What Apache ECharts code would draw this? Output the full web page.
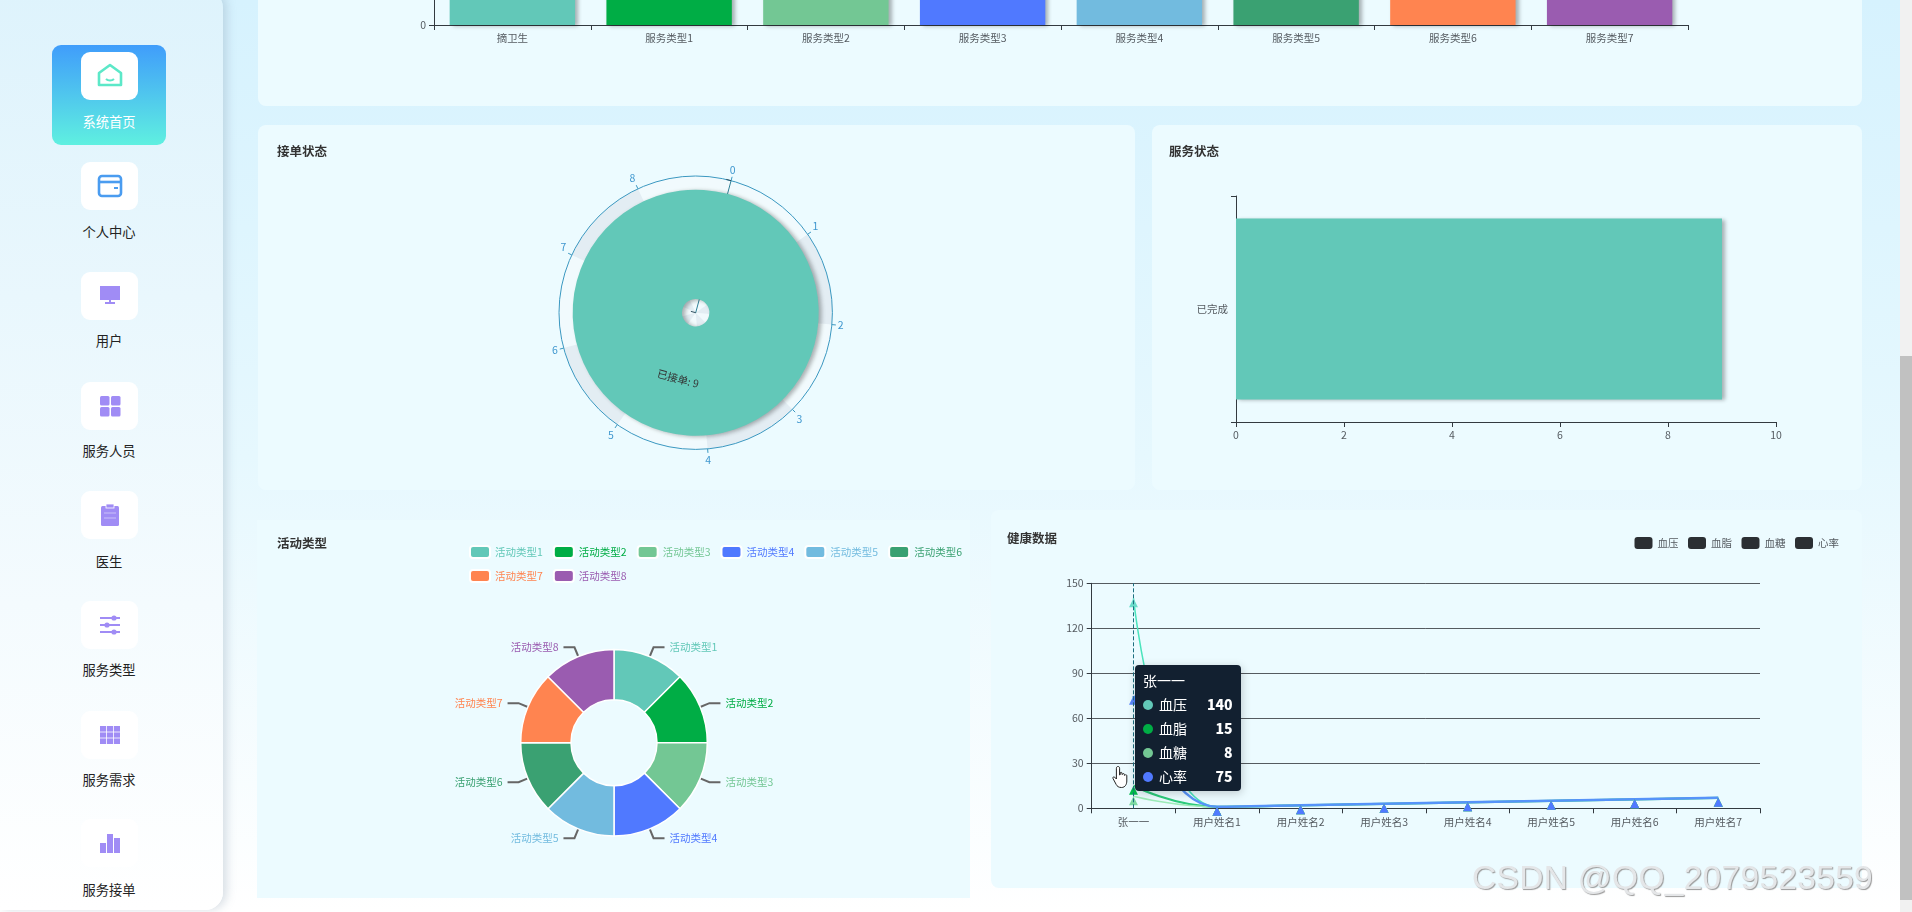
<!DOCTYPE html>
<html lang="zh"><head><meta charset="utf-8">
<script src="https://cdn.jsdelivr.net/npm/echarts@6/dist/echarts.min.js"></script>
<style>
html,body{margin:0;padding:0;width:1912px;height:912px;overflow:hidden}
body{background:linear-gradient(180deg,#d6f2fe 0%,#e6f8fe 50%,#ffffff 100%);font-family:"Noto Sans CJK SC",sans-serif;position:relative}
.panel,.chart{position:absolute}
.panel{background:#ecfbff;border-radius:8px}
#side{position:absolute;left:0;top:-10px;width:223px;height:920px;border-radius:0 18px 18px 0;background:linear-gradient(180deg,#def3fc,#ffffff);box-shadow:4px 0 10px rgba(120,140,160,.28)}
.tile{position:absolute;left:81px;width:57px;height:48px;background:#fff;border-radius:9px;display:flex;align-items:center;justify-content:center}
.lab{position:absolute;left:52px;width:114px;text-align:center;font-size:13.3px;color:#222;line-height:18px}
#active{position:absolute;left:52px;top:45px;width:114px;height:100px;border-radius:9px;background:linear-gradient(180deg,#409dfb,#5ff0e0)}
#sb{position:absolute;left:1900px;top:0;width:12px;height:912px;background:#f1f1f1}
#th{position:absolute;left:1900px;top:356px;width:12px;height:544px;background:#c1c1c1}
#wm{position:absolute;left:1472px;top:859px;font:33.5px "Liberation Sans",sans-serif;color:#e4e6e8;text-shadow:1px 1px 1px #9a9a9a;white-space:nowrap;letter-spacing:.3px}
#hand{position:absolute;left:1112px;top:765px}
</style></head><body>
<div class="panel" style="left:258px;top:-20px;width:1604px;height:126px"></div>
<div class="panel" style="left:258px;top:125px;width:877px;height:365px"></div>
<div class="panel" style="left:1152px;top:125px;width:710px;height:365px"></div>
<div class="panel" style="left:257px;top:520px;width:713px;height:378px;border-radius:0"></div>
<div class="panel" style="left:991px;top:510px;width:871px;height:378px"></div>
<div class="chart" id="c1" style="left:258px;top:-340px;width:1604px;height:446px"></div>
<div class="chart" id="c2" style="left:258px;top:125px;width:877px;height:365px"></div>
<div class="chart" id="c3" style="left:1152px;top:125px;width:710px;height:365px"></div>
<div class="chart" id="c4" style="left:257px;top:520px;width:713px;height:378px"></div>
<div class="chart" id="c5" style="left:990px;top:510px;width:872px;height:378px"></div>
<div id="side"></div><div id="active"></div><div id="menu"></div>
<div id="sb"></div><div id="th"></div>
<svg id="hand" width="20" height="24" viewBox="0 0 20 24"><path d="M6 1.5c1 0 1.6.7 1.6 1.7V10l.6-.3V8c0-.9 1.6-1 1.8 0v1.5l.6-.2c.1-.9 1.7-1 1.8.1v.9l.6-.1c.2-.7 1.7-.7 1.8.4v5.400c0 3-1.500 6.500-5.300 6.500-3 0-4.300-1.200-5.300-3L1 13.500c-.6-1 .6-2.200 1.700-1.300l1.700 1.800V3.200C4.400 2.200 5 1.500 6 1.500z" fill="#fff" stroke="#222" stroke-width="1"/></svg>
<div id="wm">CSDN @QQ_2079523559</div>
<script>
const palette=['#62c8b8','#00ad45','#73c794','#5079ff','#72bbdf','#3aa172','#ff8450','#9a5cb0'];
const serviceTypes=['摘卫生','服务类型1','服务类型2','服务类型3','服务类型4','服务类型5','服务类型6','服务类型7'];
const serviceCounts=[1,1,1,1,1,1,1,1];
const orderNames=['已接单'];const orderValues=[9];
const statusNames=['已完成'];const statusValues=[9];
const activityTypes=['活动类型1','活动类型2','活动类型3','活动类型4','活动类型5','活动类型6','活动类型7','活动类型8'];
const activityCounts=[1,1,1,1,1,1,1,1];
const users=['张一一','用户姓名1','用户姓名2','用户姓名3','用户姓名4','用户姓名5','用户姓名6','用户姓名7'];
const bloodPressure=[140,1,2,3,4,5,6,7];
const bloodFat=[15,1,2,3,4,5,6,7];
const bloodSugar=[8,1,2,3,4,5,6,7];
const heartRate=[75,1,2,3,4,5,6,7];
const menuItems=['系统首页','个人中心','用户','服务人员','医生','服务类型','服务需求','服务接单'];

const P='#a08cf5';
const icons=[
`<path d="M14 3 3 11v12h22V11z" fill="none" stroke="#5ce8c8" stroke-width="2.600" stroke-linejoin="round"/><path d="M10 17c2 2 6 2 8 0" fill="none" stroke="#5ce8c8" stroke-width="2"/>`,
`<rect x="3" y="4" width="22" height="20" rx="3" fill="none" stroke="#4a9cf0" stroke-width="2.600"/><path d="M3 10h22" stroke="#4a9cf0" stroke-width="2.600"/><path d="M18 16h4" stroke="#4a9cf0" stroke-width="2"/>`,
`<rect x="4" y="4" width="20" height="14" fill="${P}"/><path d="M9 21h10" stroke="${P}" stroke-width="2"/><rect x="13" y="18" width="2" height="3" fill="${P}"/>`,
`<rect x="4" y="4" width="9.500" height="9.500" rx="1.500" fill="${P}"/><rect x="15" y="4" width="9.500" height="9.500" rx="1.500" fill="${P}"/><rect x="4" y="15" width="9.500" height="9.500" rx="1.500" fill="${P}"/><rect x="15" y="15" width="9.500" height="9.500" rx="1.500" fill="${P}"/>`,
`<rect x="5" y="5" width="18" height="20" rx="1.500" fill="${P}"/><rect x="10" y="3" width="8" height="4" fill="${P}" stroke="#fff" stroke-width=".8"/><path d="M8 12h12M8 17h12" stroke="#c9bffa" stroke-width="1.200"/>`,
`<path d="M4 7h20M4 14h20M4 21h20" stroke="${P}" stroke-width="2"/><circle cx="18" cy="7" r="2.600" fill="${P}"/><circle cx="11" cy="14" r="2.600" fill="${P}"/><circle cx="18" cy="21" r="2.600" fill="${P}"/>`,
`<rect x="4" y="5" width="20" height="18" fill="${P}"/><path d="M4 11h20M4 17h20M10.500 5v18M17.500 5v18" stroke="#fff" stroke-width=".8"/>`,
`<rect x="4" y="14" width="6" height="10" fill="${P}"/><rect x="11" y="5" width="6" height="19" fill="${P}"/><rect x="18" y="9" width="6" height="15" fill="${P}"/>`];
const tileTops=[52,162,272,382,491,601,711,819];
const labTops=[113,223,332,442,553,661,771,881];
const menu=document.getElementById('menu');
menuItems.forEach((m,i)=>{
  menu.insertAdjacentHTML('beforeend',`<div class="tile" style="top:${tileTops[i]}px"><svg width="28" height="28" viewBox="0 0 28 28">${icons[i]}</svg></div><div class="lab" style="top:${labTops[i]}px;${i==0?'color:#fff':''}">${m}</div>`);
});

const FF='"Noto Sans CJK SC",sans-serif';
const axisColor='#333a40',labelColor='#555b61',FS=10.5;
const axisCommon={axisLine:{show:true,lineStyle:{color:axisColor}},axisTick:{show:true,lineStyle:{color:axisColor}},axisLabel:{color:labelColor,fontSize:FS,fontFamily:FF},splitLine:{show:false}};
const shadow={shadowBlur:4,shadowColor:'rgba(0,0,0,.3)',shadowOffsetX:3,shadowOffsetY:1};
const title=(text,left,top)=>({text,left,top,padding:0,textStyle:{fontSize:12.5,fontWeight:'bold',color:'#333',fontFamily:FF}});
const textStyle={fontFamily:FF};

echarts.init(document.getElementById('c1')).setOption({animation:false,textStyle,
  grid:{left:176,right:174,top:10,bottom:81,outerBoundsMode:'none'},
  xAxis:{type:'category',data:serviceTypes,...axisCommon},
  yAxis:{type:'value',min:0,...axisCommon},
  series:[{type:'bar',barCategoryGap:'20%',data:serviceCounts.map((v,i)=>({value:v,itemStyle:{color:palette[i],...shadow}}))}]
});

echarts.init(document.getElementById('c2')).setOption({animation:false,textStyle,
  title:title('接单状态',19,20),
  polar:{center:[437.7,187.7],radius:136.7},
  angleAxis:{type:'value',min:0,max:9,interval:1,startAngle:75,
    axisLine:{lineStyle:{color:'#3a97c0'}},axisTick:{length:4,lineStyle:{color:'#3a97c0'}},
    axisLabel:{color:'#3f97cf',fontSize:FS,fontFamily:FF,margin:6},
    splitLine:{show:false},splitArea:{show:true,areaStyle:{color:['rgba(250,250,250,.4)','rgba(205,205,215,.3)']}}},
  radiusAxis:{type:'category',data:orderNames,axisLine:{show:true,lineStyle:{color:'#2f7f96'}},axisTick:{show:true,lineStyle:{color:'#2f4f5f'}},axisLabel:{show:false}},
  series:[{type:'bar',coordinateSystem:'polar',barCategoryGap:'20%',data:orderValues,
    itemStyle:{color:palette[0],...shadow},
    label:{show:true,position:'middle',formatter:'{b}: {c}',color:'#333',fontSize:FS,fontFamily:FF}}]
});

echarts.init(document.getElementById('c3')).setOption({animation:false,textStyle,
  title:title('服务状态',17,20),
  grid:{left:84,right:86,top:71,bottom:68,outerBoundsMode:'none'},
  xAxis:{type:'value',min:0,max:10,interval:2,...axisCommon},
  yAxis:{type:'category',data:statusNames,...axisCommon},
  series:[{type:'bar',barCategoryGap:'20%',data:statusValues,itemStyle:{color:palette[0],...shadow}}]
});

echarts.init(document.getElementById('c4')).setOption({animation:false,textStyle,color:palette,
  title:title('活动类型',20,17),
  legend:{left:207,top:20,width:495,itemWidth:20,itemHeight:12,itemGap:10,textStyle:{color:'inherit',fontSize:FS,fontFamily:FF}},
  series:[{type:'pie',center:[357,222.7],radius:[43,93.3],
    itemStyle:{borderColor:'#fff',borderWidth:1.500},
    label:{color:'inherit',fontSize:FS,fontFamily:FF},
    labelLine:{length:10,length2:11,lineStyle:{color:'#666',width:2}},
    data:activityTypes.map((n,i)=>({name:n,value:activityCounts[i]}))}]
});

const lineNames=['血压','血脂','血糖','心率'];
const lineData=[bloodPressure,bloodFat,bloodSugar,heartRate];
const lineColors=['#45d0ac','#28b870','#8fd6a8','#4f86e3'];
const lineWidths=[1.500,2.200,1.600,2.500];
const symColors=['#3fc9a0','#16a860','#6cc890','#4f78e0'];
const c5=echarts.init(document.getElementById('c5'));
c5.setOption({animation:false,textStyle,
  title:title('健康数据',17,22),
  legend:{right:18,top:22,itemWidth:18,itemHeight:12,itemGap:9.500,icon:'roundRect',
    textStyle:{color:'#555b61',fontSize:FS,fontFamily:FF},
    data:lineNames.map(n=>({name:n,itemStyle:{color:'#2b2f33'}}))},
  grid:{left:101.700,right:102,top:73.300,bottom:79.700,outerBoundsMode:'none'},
  tooltip:{trigger:'axis',alwaysShowContent:true,transitionDuration:0,position:[145,155],
    backgroundColor:'#122030',borderWidth:0,padding:[8,8,8,8],
    textStyle:{color:'#fff',fontSize:14,fontFamily:FF},
    axisPointer:{type:'line',lineStyle:{color:'#1d6f80',type:'dashed'}}},
  xAxis:{type:'category',data:users,...axisCommon},
  yAxis:{type:'value',min:0,max:150,interval:30,...axisCommon,splitLine:{show:true,lineStyle:{color:'#555b60'}}},
  series:lineNames.map((n,i)=>({name:n,type:'line',smooth:true,data:lineData[i],symbol:'triangle',symbolSize:9,symbolOffset:[0,'50%'],
    showSymbol:true,emphasis:{scale:false},
    itemStyle:{color:palette[i]},lineStyle:{color:lineColors[i],width:lineWidths[i]}}))
});
c5.dispatchAction({type:'showTip',seriesIndex:0,dataIndex:0});
</script>
</body></html>
